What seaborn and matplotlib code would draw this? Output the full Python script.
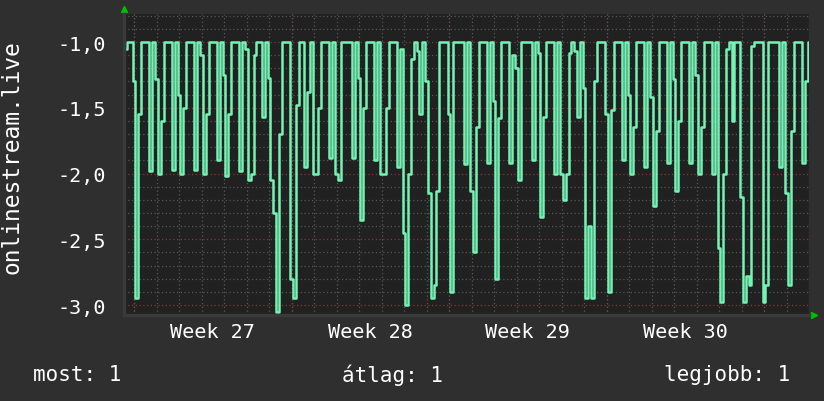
import matplotlib
matplotlib.use('Agg')
import matplotlib.pyplot as plt
from matplotlib.ticker import MultipleLocator, FixedLocator
import seaborn as sns
import pandas as pd
import numpy as np

####### Data #######
# one sample every 3 hours, hour 0 = monday of week 27
start_hour = -9
step_hours = 3
values = [
    -1.05, -1.0, -1.0, -1.3, -2.95, -1.55, -1.0, -1.0, -1.0, -1.98,
    -1.0, -1.28, -2.0, -1.6, -1.0, -1.0, -1.0, -1.97, -1.0, -1.4,
    -2.0, -1.5, -1.0, -1.0, -1.0, -1.97, -1.0, -1.1, -2.0, -1.55,
    -1.0, -1.0, -1.0, -1.9, -1.0, -1.25, -2.02, -1.55, -1.0, -1.0,
    -1.0, -1.98, -1.0, -1.05, -2.05, -2.0, -1.1, -1.0, -1.0, -1.57,
    -1.0, -1.27, -2.05, -2.3, -3.05, -1.7, -1.0, -1.0, -1.0, -2.8,
    -2.95, -1.48, -1.0, -1.0, -1.95, -1.38, -1.0, -2.0, -2.0, -1.5,
    -1.0, -1.0, -1.0, -1.88, -1.0, -2.0, -2.05, -1.0, -1.0, -1.0,
    -1.0, -1.88, -1.0, -1.27, -2.35, -1.5, -1.0, -1.0, -1.0, -1.9,
    -1.0, -2.0, -2.0, -1.5, -1.0, -1.0, -1.0, -1.95, -1.05, -2.45,
    -3.0, -2.0, -1.13, -1.0, -1.07, -1.55, -1.0, -1.3, -2.15, -2.95,
    -2.85, -2.13, -1.0, -1.0, -1.0, -1.55, -2.9, -1.0, -1.0, -1.0,
    -1.0, -1.93, -1.0, -2.13, -2.6, -1.65, -1.0, -1.0, -1.0, -1.92,
    -1.0, -1.45, -2.8, -1.58, -1.0, -1.0, -1.0, -1.92, -1.1, -1.2,
    -2.05, -1.0, -1.0, -1.0, -1.0, -1.9, -1.0, -1.08, -2.33, -1.57,
    -1.0, -1.0, -1.0, -2.0, -1.0, -2.0, -2.2, -2.0, -1.08, -1.0,
    -1.07, -1.57, -1.0, -1.35, -2.95, -2.4, -2.95, -1.3, -1.0, -1.0,
    -1.0, -1.55, -2.9, -1.52, -1.0, -1.0, -1.0, -1.9, -1.0, -1.4,
    -2.0, -1.65, -1.0, -1.0, -1.0, -1.95, -1.0, -1.42, -2.25, -1.68,
    -1.0, -1.0, -1.0, -1.92, -1.0, -1.28, -2.13, -1.6, -1.0, -1.0,
    -1.0, -1.92, -1.0, -1.25, -2.0, -1.65, -1.0, -1.0, -1.0, -2.0,
    -1.0, -2.57, -2.98, -2.0, -1.05, -1.0, -1.6, -1.0, -1.0, -2.18,
    -2.98, -2.78, -2.85, -1.03, -1.0, -1.0, -1.0, -2.98, -2.85, -1.0,
    -1.0, -1.0, -1.0, -1.95, -1.0, -2.15, -2.85, -1.68, -1.0, -1.0,
    -1.0, -1.92, -1.3, -1.0,
]
week_labels = ['Week 27', 'Week 28', 'Week 29', 'Week 30']
ytick_values = [-1.0, -1.5, -2.0, -2.5, -3.0]
ytick_labels = ['-1,0', '-1,5', '-2,0', '-2,5', '-3,0']
series_name = 'onlinestream.live'
legend_items = ['most: 1', 'átlag: 1', 'legjobb: 1']

df = pd.DataFrame({'hour': start_hour + step_hours * np.arange(len(values)),
                   'value': values})

####### Style #######
bg = '#2f2f2f'
plot_bg = '#212121'
sns.set_style('dark', {'axes.facecolor': plot_bg, 'figure.facecolor': bg})
plt.rcParams['font.family'] = ['DejaVu Sans Mono']
plt.rcParams['text.color'] = 'white'

fig = plt.figure(figsize=(8.24, 4.02), dpi=100)
ax = fig.add_axes([124 / 824, 1 - 316 / 402, 685 / 824, 301 / 402])

# grid
ax.set_xlim(-10.67, 720)
ax.set_ylim(-3.076, -0.787)
ax.xaxis.set_minor_locator(MultipleLocator(24))
ax.yaxis.set_major_locator(FixedLocator(ytick_values))
ax.yaxis.set_minor_locator(MultipleLocator(0.1))
ax.grid(which='minor', color='#575757', linestyle=(0, (1, 2)), linewidth=0.9)
ax.grid(which='major', axis='y', color='#8a3535', linestyle=(0, (1, 2)), linewidth=0.9)
ax.set_axisbelow(True)

# red week boundary lines
for k in range(5):
    ax.axvline(168 * k, color='#8a3535', linestyle=(0, (1, 2)), linewidth=0.9, zorder=0.5)

sns.lineplot(data=df, x='hour', y='value', ax=ax, color='#74f3b4',
             linewidth=1.8, drawstyle='steps-mid')

# ticks / labels
ax.set_xticks([84 + 168 * k for k in range(len(week_labels))])
ax.set_xticklabels(week_labels, fontsize=14.5, color='white')
ax.set_yticks(ytick_values)
ax.set_yticklabels(ytick_labels, fontsize=14.5, color='white')
ax.tick_params(axis='both', which='both', length=0)
ax.tick_params(axis='x', pad=5)
ax.tick_params(axis='y', pad=13)
ax.set_xlabel('')
ax.set_ylabel('')

for name, s in ax.spines.items():
    s.set_visible(name in ('left', 'bottom'))
    s.set_color('#3a3a3a')
    s.set_linewidth(2.5)

# axis arrows
ax.plot([0], [1.017], marker='^', color='#00c000', markersize=5,
        transform=ax.transAxes, clip_on=False)
ax.plot([1.008], [0], marker='>', color='#00c000', markersize=5,
        transform=ax.transAxes, clip_on=False)

fig.text(12 / 824, 1 - 157 / 402, series_name, rotation=90, fontsize=16.5,
         ha='center', va='center', color='white')

fig.text(33 / 824, 1 - 375 / 402, legend_items[0], fontsize=15, ha='left', va='center')
fig.text(392 / 824, 1 - 375 / 402, legend_items[1], fontsize=15, ha='center', va='center')
fig.text(790 / 824, 1 - 375 / 402, legend_items[2], fontsize=15, ha='right', va='center')

fig.savefig('out.png', dpi=100, facecolor=bg)
